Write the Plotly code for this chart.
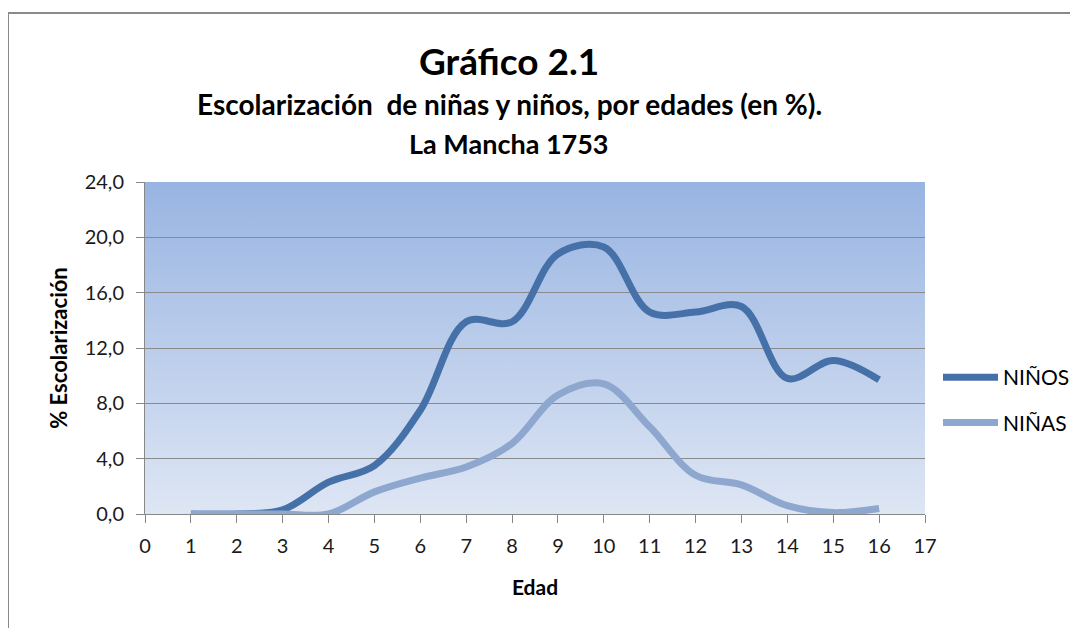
import base64
import plotly.graph_objects as go

edad = list(range(1, 17))
ninos = [0.0, 0.0, 0.3, 2.3, 3.5, 7.5, 13.9, 13.9, 18.8, 19.3, 14.6, 14.6, 15.0, 9.8, 11.1, 9.7]
ninas = [0.0, 0.0, 0.0, 0.0, 1.6, 2.6, 3.4, 5.1, 8.6, 9.4, 6.3, 2.8, 2.1, 0.6, 0.1, 0.4]
y_ticks = [0, 4, 8, 12, 16, 20, 24]
y_labels = ["0,0", "4,0", "8,0", "12,0", "16,0", "20,0", "24,0"]
x_ticks = list(range(0, 18))

FONT = "Lato"
OFF = 8  # page offset of the figure
W, H = 1078 - OFF, 628 - OFF
L, T = 145 - OFF, 182 - OFF
pw, ph = 780, 332
R, B = W - L - pw, H - T - ph

def px_x(p):
    return (p - OFF - L) / pw

def px_y(p):
    return (H - B - (p - OFF)) / ph

svg = ('<svg xmlns="http://www.w3.org/2000/svg" width="100" height="100" preserveAspectRatio="none">'
       '<defs><linearGradient id="g" x1="0" y1="0" x2="0" y2="1">'
       '<stop offset="0" stop-color="#98B4E2"/><stop offset="1" stop-color="#DEE6F4"/>'
       '</linearGradient></defs><rect width="100" height="100" fill="url(#g)"/></svg>')
src = "data:image/svg+xml;base64," + base64.b64encode(svg.encode()).decode()

fig = go.Figure()
fig.add_trace(go.Scatter(x=edad, y=ninos, name="NIÑOS", mode="lines", legendgroup="a",
                         line=dict(color="#4671A8", width=7, shape="spline", smoothing=1.0)))
fig.add_trace(go.Scatter(x=edad, y=ninas, name="NIÑAS", mode="lines", legendgroup="b",
                         line=dict(color="#8EA7CE", width=7, shape="spline", smoothing=1.0)))

fig.update_layout(
    width=W, height=H,
    margin=dict(l=L, r=R, t=T, b=B, pad=0, autoexpand=False),
    paper_bgcolor="white", plot_bgcolor="rgba(0,0,0,0)",
    font=dict(family=FONT, color="black", size=16),
    showlegend=True,
    legend=dict(x=px_x(938), y=px_y(357), xanchor="left", yanchor="top",
                font=dict(size=21, family=FONT), bgcolor="rgba(0,0,0,0)",
                tracegroupgap=15, itemwidth=55),
    images=[dict(source=src, xref="x domain", yref="y domain", x=0, y=1,
                 sizex=1, sizey=1, sizing="stretch", xanchor="left", yanchor="top",
                 layer="below")],
    xaxis=dict(range=[0, 17], tickvals=x_ticks, ticktext=[str(v) for v in x_ticks],
               ticks="outside", ticklen=8, tickcolor="#888888", showgrid=False,
               showline=True, linecolor="#888888", linewidth=1, zeroline=False,
               tickfont=dict(size=20, family=FONT, color="#1a1a1a"), ticklabelstandoff=6,
               title=dict(text="<b>Edad</b>", font=dict(size=21, family=FONT), standoff=24)),
    yaxis=dict(range=[0, 24], tickvals=y_ticks, ticktext=y_labels,
               ticks="outside", ticklen=8, tickcolor="#888888",
               showgrid=True, gridcolor="#8A8A8A", gridwidth=1,
               showline=True, linecolor="#888888", linewidth=1, zeroline=False,
               tickfont=dict(size=20, family=FONT, color="#1a1a1a"), ticklabelstandoff=8,
               title=dict(text="<b>% Escolarización</b>", font=dict(size=22, family=FONT), standoff=10)),
    annotations=[
        dict(text="<b>Gráfico 2.1</b>", x=px_x(509), y=px_y(60), xref="paper", yref="paper",
             showarrow=False, font=dict(size=37, family=FONT), xanchor="center", yanchor="middle"),
        dict(text="<b>Escolarización  de niñas y niños, por edades (en %).</b>", x=px_x(509), y=px_y(104),
             xref="paper", yref="paper", showarrow=False, font=dict(size=28, family=FONT),
             xanchor="center", yanchor="middle"),
        dict(text="<b>La Mancha 1753</b>", x=px_x(509), y=px_y(143), xref="paper", yref="paper",
             showarrow=False, font=dict(size=27, family=FONT), xanchor="center", yanchor="middle"),
    ],
    shapes=[dict(type="rect", xref="paper", yref="paper",
                 x0=px_x(8), x1=px_x(1090), y0=px_y(640), y1=px_y(13),
                 line=dict(color="#8A8A8A", width=2), fillcolor="rgba(0,0,0,0)", layer="below")],
)

fig.write_html("out.html")
